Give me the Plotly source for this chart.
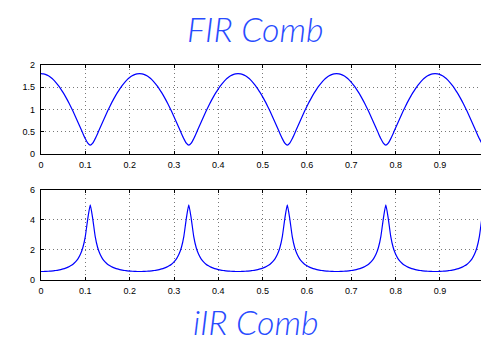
import numpy as np
import plotly.graph_objects as go
from plotly.subplots import make_subplots

# normalized frequency grid (x pi rad/sample), 181 samples on [0, 1]
freq = np.arange(181) / 180.0

# |H| of the FIR comb (feed-forward, g = 0.8, delay 9)
fir_mag = [
    1.800, 1.795, 1.778, 1.751, 1.713, 1.665, 1.606, 1.538, 1.461, 1.375,
    1.281, 1.179, 1.070, 0.956, 0.836, 0.713, 0.588, 0.463, 0.344, 0.244,
    0.200, 0.244, 0.344, 0.463, 0.588, 0.713, 0.836, 0.956, 1.070, 1.179,
    1.281, 1.375, 1.461, 1.538, 1.606, 1.665, 1.713, 1.751, 1.778, 1.795,
    1.800, 1.795, 1.778, 1.751, 1.713, 1.665, 1.606, 1.538, 1.461, 1.375,
    1.281, 1.179, 1.070, 0.956, 0.836, 0.713, 0.588, 0.463, 0.344, 0.244,
    0.200, 0.244, 0.344, 0.463, 0.588, 0.713, 0.836, 0.956, 1.070, 1.179,
    1.281, 1.375, 1.461, 1.538, 1.606, 1.665, 1.713, 1.751, 1.778, 1.795,
    1.800, 1.795, 1.778, 1.751, 1.713, 1.665, 1.606, 1.538, 1.461, 1.375,
    1.281, 1.179, 1.070, 0.956, 0.836, 0.713, 0.588, 0.463, 0.344, 0.244,
    0.200, 0.244, 0.344, 0.463, 0.588, 0.713, 0.836, 0.956, 1.070, 1.179,
    1.281, 1.375, 1.461, 1.538, 1.606, 1.665, 1.713, 1.751, 1.778, 1.795,
    1.800, 1.795, 1.778, 1.751, 1.713, 1.665, 1.606, 1.538, 1.461, 1.375,
    1.281, 1.179, 1.070, 0.956, 0.836, 0.713, 0.588, 0.463, 0.344, 0.244,
    0.200, 0.244, 0.344, 0.463, 0.588, 0.713, 0.836, 0.956, 1.070, 1.179,
    1.281, 1.375, 1.461, 1.538, 1.606, 1.665, 1.713, 1.751, 1.778, 1.795,
    1.800, 1.795, 1.778, 1.751, 1.713, 1.665, 1.606, 1.538, 1.461, 1.375,
    1.281, 1.179, 1.070, 0.956, 0.836, 0.713, 0.588, 0.463, 0.344, 0.244,
    0.200,
]

# |H| of the IIR comb (feedback, g = 0.8, delay 9)
iir_mag = [
    0.556, 0.557, 0.562, 0.571, 0.584, 0.601, 0.623, 0.650, 0.685, 0.727,
    0.781, 0.848, 0.934, 1.046, 1.196, 1.402, 1.701, 2.160, 2.907, 4.092,
    5.000, 4.092, 2.907, 2.160, 1.701, 1.402, 1.196, 1.046, 0.934, 0.848,
    0.781, 0.727, 0.685, 0.650, 0.623, 0.601, 0.584, 0.571, 0.562, 0.557,
    0.556, 0.557, 0.562, 0.571, 0.584, 0.601, 0.623, 0.650, 0.685, 0.727,
    0.781, 0.848, 0.934, 1.046, 1.196, 1.402, 1.701, 2.160, 2.907, 4.092,
    5.000, 4.092, 2.907, 2.160, 1.701, 1.402, 1.196, 1.046, 0.934, 0.848,
    0.781, 0.727, 0.685, 0.650, 0.623, 0.601, 0.584, 0.571, 0.562, 0.557,
    0.556, 0.557, 0.562, 0.571, 0.584, 0.601, 0.623, 0.650, 0.685, 0.727,
    0.781, 0.848, 0.934, 1.046, 1.196, 1.402, 1.701, 2.160, 2.907, 4.092,
    5.000, 4.092, 2.907, 2.160, 1.701, 1.402, 1.196, 1.046, 0.934, 0.848,
    0.781, 0.727, 0.685, 0.650, 0.623, 0.601, 0.584, 0.571, 0.562, 0.557,
    0.556, 0.557, 0.562, 0.571, 0.584, 0.601, 0.623, 0.650, 0.685, 0.727,
    0.781, 0.848, 0.934, 1.046, 1.196, 1.402, 1.701, 2.160, 2.907, 4.092,
    5.000, 4.092, 2.907, 2.160, 1.701, 1.402, 1.196, 1.046, 0.934, 0.848,
    0.781, 0.727, 0.685, 0.650, 0.623, 0.601, 0.584, 0.571, 0.562, 0.557,
    0.556, 0.557, 0.562, 0.571, 0.584, 0.601, 0.623, 0.650, 0.685, 0.727,
    0.781, 0.848, 0.934, 1.046, 1.196, 1.402, 1.701, 2.160, 2.907, 4.092,
    5.000,
]

x_ticks = [0, 0.1, 0.2, 0.3, 0.4, 0.5, 0.6, 0.7, 0.8, 0.9]
x_tick_labels = ["0", "0.1", "0.2", "0.3", "0.4", "0.5", "0.6", "0.7", "0.8", "0.9"]
fir_y_ticks = [0, 0.5, 1, 1.5, 2]
fir_y_labels = ["0", "0.5", "1", "1.5", "2"]
iir_y_ticks = [0, 2, 4, 6]
iir_y_labels = ["0", "2", "4", "6"]

W, H = 481, 346
ML = 41
PW = W - ML
title_blue = "rgb(40,75,255)"
curve = dict(color="rgb(0,0,255)", width=1.2, shape="spline", smoothing=0.5)

fig = make_subplots(rows=2, cols=1)
fig.add_trace(go.Scatter(x=freq, y=fir_mag, mode="lines", line=curve,
                         hoverinfo="skip", showlegend=False), row=1, col=1)
fig.add_trace(go.Scatter(x=freq, y=iir_mag, mode="lines", line=curve,
                         hoverinfo="skip", showlegend=False), row=2, col=1)

axis_font = dict(family="Liberation Sans, Arial, sans-serif", size=9, color="black")
grid = dict(showgrid=True, gridcolor="rgb(120,120,120)", griddash="1px,3px", gridwidth=1)
common_x = dict(range=[0, 0.9925], tickvals=x_ticks, ticktext=x_tick_labels,
                showline=True, linecolor="black", linewidth=1.3, mirror="ticks",
                ticks="inside", ticklen=3, tickcolor="black", tickwidth=1,
                zeroline=False, tickfont=axis_font, ticklabelstandoff=2, **grid)
common_y = dict(showline=True, linecolor="black", linewidth=1.3, mirror=False,
                ticks="inside", ticklen=3, tickcolor="black", tickwidth=1,
                zeroline=False, tickfont=axis_font, ticklabelstandoff=3, **grid)

top_dom = [1 - 153.5 / H, 1 - 61.5 / H]
bot_dom = [1 - 283.0 / H, 1 - 190.5 / H]

title_font = dict(family="Lato, Open Sans, sans-serif", size=34, color=title_blue,
                  weight=300)

fig.update_layout(
    width=W, height=H,
    margin=dict(l=ML, r=0, t=0, b=0),
    paper_bgcolor="white", plot_bgcolor="white",
    xaxis=dict(**common_x, domain=[0, 1]),
    xaxis2=dict(**common_x, domain=[0, 1]),
    yaxis=dict(**common_y, range=[0, 2], tickvals=fir_y_ticks, ticktext=fir_y_labels,
               domain=top_dom),
    yaxis2=dict(**common_y, range=[0, 6], tickvals=iir_y_ticks, ticktext=iir_y_labels,
                domain=bot_dom),
    annotations=[
        dict(text="<i>FIR Comb</i>", x=(255.5 - ML) / PW, y=1 - 24 / H,
             xref="paper", yref="paper", xanchor="center", yanchor="middle",
             showarrow=False, font=title_font),
        dict(text="<i>iIR Comb</i>", x=(256 - ML) / PW, y=1 - 326 / H,
             xref="paper", yref="paper", xanchor="center", yanchor="middle",
             showarrow=False, font=title_font),
    ],
)

fig.write_html("out.html")
